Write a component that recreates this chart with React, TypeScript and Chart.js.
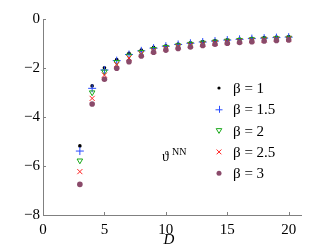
import { useEffect, useRef } from 'react';
import { Chart, registerables } from 'chart.js';

Chart.register(...registerables);

const dValues = [3, 4, 5, 6, 7, 8, 9, 10, 11, 12, 13, 14, 15, 16, 17, 18, 19, 20];
const beta1 = [-5.18, -2.73, -1.99, -1.65, -1.40, -1.27, -1.16, -1.09, -1.02, -0.97, -0.92, -0.88, -0.85, -0.82, -0.79, -0.76, -0.74, -0.72];
const beta15 = [-5.39, -2.83, -2.08, -1.70, -1.45, -1.30, -1.19, -1.11, -1.04, -0.99, -0.94, -0.90, -0.86, -0.83, -0.80, -0.78, -0.76, -0.74];
const beta2 = [-5.78, -3.00, -2.15, -1.76, -1.50, -1.35, -1.23, -1.15, -1.08, -1.02, -0.97, -0.93, -0.89, -0.86, -0.83, -0.81, -0.79, -0.77];
const beta25 = [-6.23, -3.24, -2.29, -1.86, -1.59, -1.42, -1.30, -1.21, -1.13, -1.07, -1.02, -0.98, -0.94, -0.91, -0.88, -0.85, -0.83, -0.81];
const beta3 = [-6.75, -3.47, -2.46, -2.01, -1.74, -1.51, -1.36, -1.27, -1.20, -1.14, -1.08, -1.03, -0.99, -0.96, -0.93, -0.90, -0.88, -0.86];

const seriesLabels = ['β = 1', 'β = 1.5', 'β = 2', 'β = 2.5', 'β = 3'];
const seriesValues = [beta1, beta15, beta2, beta25, beta3];
const xTicks = [0, 5, 10, 15, 20];
const yTicks = [-8, -6, -4, -2, 0];
const xLabel = 'D';
const annotationMain = 'ϑ';
const annotationSup = 'NN';

const COLORS = ['#000000', '#2a4dff', '#1aa81a', '#ff2020', '#8a4a6a'];
const STYLES = [
  { pointStyle: 'circle', radius: 1.8, fill: true, rotation: 0, legendSize: 1.6 },
  { pointStyle: 'cross', radius: 4, fill: false, rotation: 0, legendSize: 3.5 },
  { pointStyle: 'triangle', radius: 3.2, fill: false, rotation: 180, legendSize: 2.8 },
  { pointStyle: 'crossRot', radius: 3.6, fill: false, rotation: 0, legendSize: 2.4 },
  { pointStyle: 'circle', radius: 2.8, fill: true, rotation: 0, legendSize: 2.5 },
];

const SERIF = "'Liberation Serif', 'Times New Roman', serif";
const AXIS_GREY = '#808080';

function drawMarker(ctx: CanvasRenderingContext2D, i: number, x: number, y: number) {
  const c = COLORS[i];
  const s = STYLES[i];
  const r = s.legendSize;
  ctx.save();
  ctx.strokeStyle = c;
  ctx.fillStyle = c;
  ctx.lineWidth = 1;
  ctx.beginPath();
  if (s.pointStyle === 'circle') {
    ctx.arc(x, y, r, 0, Math.PI * 2);
    ctx.fill();
  } else if (s.pointStyle === 'cross') {
    ctx.moveTo(x - r, y + 0.5);
    ctx.lineTo(x + r, y + 0.5);
    ctx.moveTo(x + 0.5, y - r);
    ctx.lineTo(x + 0.5, y + r);
    ctx.stroke();
  } else if (s.pointStyle === 'triangle') {
    ctx.moveTo(x - r, y - r * 0.7);
    ctx.lineTo(x + r, y - r * 0.7);
    ctx.lineTo(x, y + r);
    ctx.closePath();
    ctx.stroke();
  } else {
    ctx.moveTo(x - r, y - r);
    ctx.lineTo(x + r, y + r);
    ctx.moveTo(x + r, y - r);
    ctx.lineTo(x - r, y + r);
    ctx.stroke();
  }
  ctx.restore();
}

const decorPlugin = {
  id: 'decor',
  afterDraw(chart: any) {
    const ctx: CanvasRenderingContext2D = chart.ctx;
    const xs = chart.scales.x;
    const ys = chart.scales.y;
    const area = chart.chartArea;
    ctx.save();
    // inward ticks
    ctx.strokeStyle = AXIS_GREY;
    ctx.lineWidth = 1;
    ctx.beginPath();
    for (const v of xTicks) {
      const px = Math.round(xs.getPixelForValue(v)) + 0.5;
      ctx.moveTo(px, area.bottom);
      ctx.lineTo(px, area.bottom - 3);
    }
    for (const v of yTicks) {
      const py = Math.round(ys.getPixelForValue(v)) + 0.5;
      ctx.moveTo(area.left, py);
      ctx.lineTo(area.left + 3, py);
    }
    ctx.stroke();

    // legend
    const legendMarkerX = 219;
    const legendTextX = 233;
    const legendTop = 88;
    const legendStep = 21.3;
    ctx.font = `15px ${SERIF}`;
    ctx.textBaseline = 'middle';
    ctx.textAlign = 'left';
    seriesLabels.forEach((lab, i) => {
      const y = legendTop + i * legendStep;
      drawMarker(ctx, i, legendMarkerX, y);
      ctx.fillStyle = '#000';
      ctx.fillText(lab, legendTextX, y + 1);
    });

    // annotation
    ctx.fillStyle = '#000';
    ctx.textBaseline = 'alphabetic';
    ctx.font = `14px ${SERIF}`;
    ctx.fillText(annotationMain, 162, 161);
    ctx.font = `10px ${SERIF}`;
    ctx.fillText(annotationSup, 172, 155);

    // x-axis title
    ctx.font = `italic 15px ${SERIF}`;
    ctx.textAlign = 'center';
    ctx.fillText(xLabel, 169, 244);
    ctx.restore();
  },
};

export default function App() {
  const ref = useRef<HTMLCanvasElement | null>(null);
  useEffect(() => {
    if (!ref.current) return;
    const datasets = seriesValues.map((vals, i) => ({
      label: seriesLabels[i],
      data: dValues.map((d, j) => ({ x: d, y: vals[j] })),
      pointStyle: STYLES[i].pointStyle as any,
      pointRadius: STYLES[i].radius,
      pointRotation: STYLES[i].rotation,
      pointBorderColor: COLORS[i],
      pointBackgroundColor: STYLES[i].fill ? COLORS[i] : 'rgba(0,0,0,0)',
      pointBorderWidth: STYLES[i].fill ? 0 : 1,
      showLine: false,
      order: 4 - i,
    }));
    const chart = new Chart(ref.current, {
      type: 'scatter',
      data: { datasets },
      options: {
        animation: false,
        responsive: false,
        layout: { padding: { left: 0, top: 19, right: 31, bottom: 0 } },
        plugins: { legend: { display: false }, tooltip: { enabled: false } },
        scales: {
          x: {
            type: 'linear',
            min: 0,
            max: 21,
            afterBuildTicks: (s: any) => {
              s.ticks = xTicks.map((v) => ({ value: v }));
            },
            afterFit: (s: any) => {
              s.height = 35;
            },
            grid: { display: false, drawTicks: false },
            border: { display: true, color: AXIS_GREY, width: 1 },
            ticks: {
              color: '#000',
              padding: 6,
              maxRotation: 0,
              font: { family: SERIF, size: 15 },
            },
          },
          y: {
            type: 'linear',
            min: -8,
            max: 0,
            afterBuildTicks: (s: any) => {
              s.ticks = yTicks.map((v) => ({ value: v }));
            },
            afterFit: (s: any) => {
              s.width = 43;
            },
            grid: { display: false, drawTicks: false },
            border: { display: true, color: AXIS_GREY, width: 1 },
            ticks: {
              color: '#000',
              padding: 3,
              font: { family: SERIF, size: 15 },
              callback: (v: any) => (Number(v) < 0 ? '−' + Math.abs(Number(v)) : String(v)),
            },
          },
        },
      },
      plugins: [decorPlugin],
    });
    return () => chart.destroy();
  }, []);
  return (
    <div style={{ position: 'absolute', left: 0, top: 0, width: 332, height: 250, background: '#fff' }}>
      <canvas ref={ref} width={332} height={250} style={{ display: 'block' }} />
    </div>
  );
}
